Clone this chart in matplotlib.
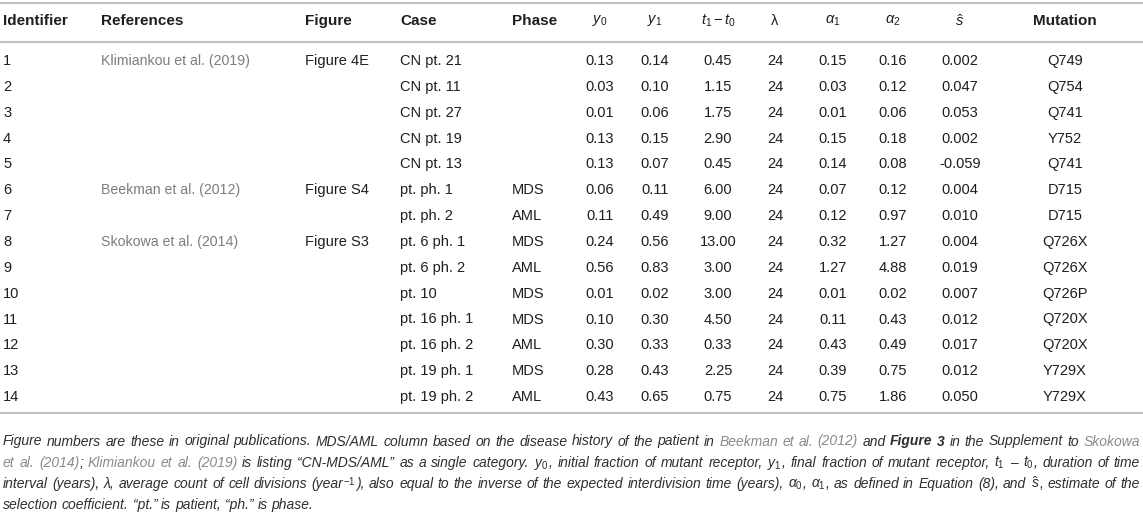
import matplotlib
matplotlib.use("Agg")
import matplotlib.pyplot as plt

plt.rcParams['font.family'] = ['Liberation Sans', 'DejaVu Sans']
plt.rcParams['mathtext.fontset'] = 'custom'
plt.rcParams['mathtext.rm'] = 'Liberation Sans'
plt.rcParams['mathtext.it'] = 'Liberation Sans:italic'
plt.rcParams['mathtext.bf'] = 'Liberation Sans:bold'

# ---------------- data ----------------
headers = ["Identifier", "References", "Figure", "Case", "Phase",
           r"$y_0$", r"$y_1$", r"$t_1 - t_0$", "λ", r"$\alpha_1$", r"$\alpha_2$",
           r"$\hat{s}$", "Mutation"]
ids = [str(i) for i in range(1, 15)]
refs = ["Klimiankou et al. (2019)", "", "", "", "", "Beekman et al. (2012)", "",
        "Skokowa et al. (2014)", "", "", "", "", "", ""]
figs = ["Figure 4E", "", "", "", "", "Figure S4", "", "Figure S3", "", "", "", "", "", ""]
cases = ["CN pt. 21", "CN pt. 11", "CN pt. 27", "CN pt. 19", "CN pt. 13",
         "pt. ph. 1", "pt. ph. 2", "pt. 6 ph. 1", "pt. 6 ph. 2", "pt. 10",
         "pt. 16 ph. 1", "pt. 16 ph. 2", "pt. 19 ph. 1", "pt. 19 ph. 2"]
phases = ["", "", "", "", "", "MDS", "AML", "MDS", "AML", "MDS", "MDS", "AML", "MDS", "AML"]
y0 = ["0.13", "0.03", "0.01", "0.13", "0.13", "0.06", "0.11", "0.24", "0.56", "0.01",
      "0.10", "0.30", "0.28", "0.43"]
y1 = ["0.14", "0.10", "0.06", "0.15", "0.07", "0.11", "0.49", "0.56", "0.83", "0.02",
      "0.30", "0.33", "0.43", "0.65"]
dt = ["0.45", "1.15", "1.75", "2.90", "0.45", "6.00", "9.00", "13.00", "3.00", "3.00",
      "4.50", "0.33", "2.25", "0.75"]
lam = ["24"] * 14
a1 = ["0.15", "0.03", "0.01", "0.15", "0.14", "0.07", "0.12", "0.32", "1.27", "0.01",
      "0.11", "0.43", "0.39", "0.75"]
a2 = ["0.16", "0.12", "0.06", "0.18", "0.08", "0.12", "0.97", "1.27", "4.88", "0.02",
      "0.43", "0.49", "0.75", "1.86"]
shat = ["0.002", "0.047", "0.053", "0.002", "-0.059", "0.004", "0.010", "0.004", "0.019",
        "0.007", "0.012", "0.017", "0.012", "0.050"]
mutation = ["Q749", "Q754", "Q741", "Y752", "Q741", "D715", "D715", "Q726X", "Q726X",
            "Q726P", "Q720X", "Q720X", "Y729X", "Y729X"]

columns = [ids, refs, figs, cases, phases, y0, y1, dt, lam, a1, a2, shat, mutation]

# caption: lines of tokens; each token is list of (text, style)
D, G, B = 'd', 'g', 'b'
def words(s, st):
    return [[(w, st)] for w in s.split()]

cap_lines = [
    words("Figure numbers are these in original publications. MDS/AML column based on the disease history of the patient in", D)
    + words("Beekman et al. (2012)", G) + words("and", D) + words("Figure 3", B)
    + words("in the Supplement to", D) + words("Skokowa", G),
    words("et al.", G) + [[("(2014)", G), (";", D)]] + words("Klimiankou et al. (2019)", G)
    + words("is listing “CN-MDS/AML” as a single category.", D)
    + [[(r"$y_0$", D), (",", D)]] + words("initial fraction of mutant receptor,", D)
    + [[(r"$y_1$", D), (",", D)]] + words("final fraction of mutant receptor,", D)
    + [[(r"$t_1$", D)], [("–", D)], [(r"$t_0$", D), (",", D)]] + words("duration of time", D),
    words("interval (years), λ, average count of cell divisions", D)
    + [[("(year", D), (r"$^{-1}$", D), ("),", D)]]
    + words("also equal to the inverse of the expected interdivision time (years),", D)
    + [[(r"$\alpha_0$", D), (",", D)], [(r"$\alpha_1$", D), (",", D)]]
    + words("as defined in Equation (8), and", D) + [[(r"$\hat{s}$", D), (",", D)]]
    + words("estimate of the", D),
    words("selection coefficient. “pt.” is patient, “ph.” is phase.", D),
]

# ---------------- layout ----------------
W, H = 1143, 518
fig = plt.figure(figsize=(W / 100, H / 100), dpi=100)
ax = fig.add_axes([0, 0, 1, 1])
ax.set_xlim(0, W)
ax.set_ylim(H, 0)
ax.axis('off')

TXT = '#1e1e1e'
GRAY = '#7d7d7d'
LINE = '#c2c2c2'
HFS = 11
FS = 10.5
RFS = 10.2

col_x = [3, 101, 305, 400, 512, 600, 655, 718, 775, 833, 893, 960, 1065]
col_ha = ['left'] * 5 + ['center'] * 8
header_y = 21
row_y0, row_step = 61, 25.85

for yl in (3, 41.5, 413):
    ax.plot([0, W], [yl, yl], color=LINE, lw=1.6, solid_capstyle='butt')

for i, h in enumerate(headers):
    is_math = h.startswith('$') or h == 'λ'
    ax.text(col_x[i], header_y, h, ha=col_ha[i], va='center',
            fontsize=FS if is_math else HFS,
            fontweight='normal' if is_math else 'bold', color=TXT)

for ci, col in enumerate(columns):
    for ri, val in enumerate(col):
        if not val:
            continue
        ax.text(col_x[ci], row_y0 + ri * row_step, val, ha=col_ha[ci], va='center',
                fontsize=RFS if ci == 1 else FS, color=GRAY if ci == 1 else TXT)

# caption
fig.canvas.draw()
renderer = fig.canvas.get_renderer()
CAP = '#2e2e2e'
CGRAY = '#8a8a8a'

def style_kw(st, size):
    kw = dict(fontsize=size, fontstyle='italic', color=CAP)
    if st == G:
        kw['color'] = CGRAY
    elif st == B:
        kw['fontweight'] = 'bold'
    return kw

def seg_width(text, st, size):
    t = ax.text(0, 0, text, **style_kw(st, size))
    w = t.get_window_extent(renderer).width
    t.remove()
    return w

x_left, x_right = 3, 1140
S0 = 10.0
sp0 = seg_width("a b", D, S0) - seg_width("ab", D, S0)
fits = []
for line in cap_lines[:-1]:
    tot = sum(seg_width(t, st, S0) for tok in line for t, st in tok)
    fits.append(S0 * (x_right - x_left) / (tot + (len(line) - 1) * sp0 * 1.15))
CFS = min(fits)

cap_y0, cap_step = 445.5, 21.2
sp = seg_width("a b", D, CFS) - seg_width("ab", D, CFS)
for li, line in enumerate(cap_lines):
    y = cap_y0 + li * cap_step
    tok_w = [[seg_width(t, st, CFS) for t, st in tok] for tok in line]
    total = sum(sum(w) for w in tok_w)
    if li < len(cap_lines) - 1:
        gap = (x_right - x_left - total) / (len(line) - 1)
    else:
        gap = sp
    x = x_left
    for tok, ws in zip(line, tok_w):
        for (t, st), w in zip(tok, ws):
            ax.text(x, y, t, ha='left', va='baseline', **style_kw(st, CFS))
            x += w
        x += gap

fig.savefig("out.png", dpi=100)
